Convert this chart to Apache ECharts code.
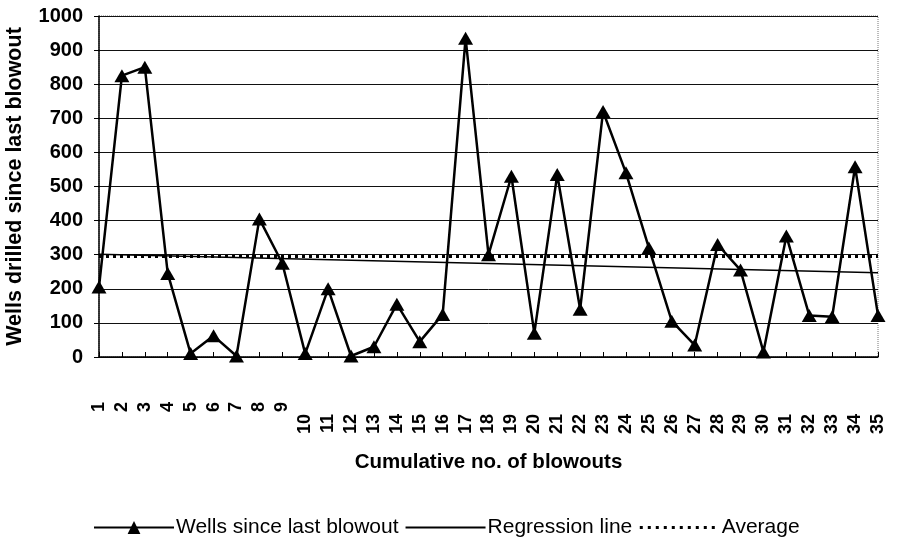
<!DOCTYPE html>
<html>
<head>
<meta charset="utf-8">
<script src="https://cdn.jsdelivr.net/npm/echarts@6/dist/echarts.min.js"></script>
<style>
  html, body { margin: 0; padding: 0; background: #fff; }
  #chart { width: 901px; height: 538px; }
</style>
</head>
<body>
<div id="chart"></div>
<script>
// 数据
var blowouts = ['1','2','3','4','5','6','7','8','9','10','11','12','13','14','15','16','17','18',
  '19','20','21','22','23','24','25','26','27','28','29','30','31','32','33','34','35'];
var wells = [205, 825, 850, 245, 10, 62, 3, 405, 275, 10, 200, 3, 30, 155, 45, 125, 935, 300,
  530, 70, 535, 140, 720, 540, 320, 105, 35, 330, 255, 15, 355, 122, 118, 558, 122];
// regression line / average: values at first and last blowout
var regression = [301, 247];
var average = [295, 295];
var yTicks = [0, 1000, 100];

var myChart = echarts.init(document.getElementById('chart'));
var font = 'Liberation Sans, Arial, sans-serif';
var last = blowouts.length - 1;

option = {
    animation: false,
    textStyle: { fontFamily: font, color: '#000' },
    grid: {
        left: 99, right: 23, top: 16, bottom: 181,
        outerBoundsMode: 'none',
        show: true,
        borderColor: '#777',
        borderWidth: 1,
        borderType: 'dotted'
    },
    legend: {
        left: 88,
        top: 512,
        itemWidth: 80,
        itemHeight: 16,
        itemGap: 6,
        textStyle: { fontFamily: font, fontSize: 21, color: '#000', padding: [0, 0, 0, -3] },
        data: [
            'Wells since last blowout',
            { name: 'Regression line', itemStyle: { opacity: 0 } },
            { name: 'Average', itemStyle: { opacity: 0 }, lineStyle: { width: 3, type: [3, 5] } }
        ]
    },
    xAxis: {
        type: 'category',
        data: blowouts,
        boundaryGap: false,
        name: 'Cumulative no. of blowouts',
        nameLocation: 'middle',
        nameGap: 95,
        nameTextStyle: { fontFamily: font, fontSize: 20.5, fontWeight: 'bold', color: '#000' },
        axisLine: { lineStyle: { color: '#000', width: 1.5 } },
        axisTick: { inside: true, length: 5, lineStyle: { color: '#000' } },
        axisLabel: {
            interval: 0,
            rotate: 90,
            margin: 45,
            fontFamily: font,
            fontSize: 18,
            fontWeight: 'bold',
            color: '#000',
            // 两位数的标签往下放
            formatter: function (v) {
                return v.length > 1 ? '{b|' + v + '}' : '{a|' + v + '}';
            },
            rich: {
                a: { fontFamily: font, fontSize: 18, fontWeight: 'bold', color: '#000' },
                b: { fontFamily: font, fontSize: 18, fontWeight: 'bold', color: '#000', padding: [0, 12, 0, 0] }
            }
        },
        splitLine: { show: false }
    },
    yAxis: {
        type: 'value',
        min: yTicks[0],
        max: yTicks[1],
        interval: yTicks[2],
        name: 'Wells drilled since last blowout',
        nameLocation: 'middle',
        nameGap: 73,
        nameTextStyle: { fontFamily: font, fontSize: 21.5, fontWeight: 'bold', color: '#000' },
        axisLine: { show: true, lineStyle: { color: '#000', width: 1.5 } },
        axisTick: { show: true, length: 5, lineStyle: { color: '#000' } },
        axisLabel: {
            margin: 16, fontFamily: font, fontSize: 20, fontWeight: 'bold', color: '#000',
            formatter: function (v) { return String(v); }
        },
        splitLine: { lineStyle: { color: '#111', width: 1 } }
    },
    series: [
        {
            name: 'Wells since last blowout',
            type: 'line',
            data: wells,
            symbol: 'triangle',
            symbolSize: [15, 13],
            itemStyle: { color: '#000' },
            lineStyle: { color: '#000', width: 2.5 },
            z: 5
        },
        {
            name: 'Regression line',
            type: 'line',
            data: [[0, regression[0]], [last, regression[1]]],
            symbol: 'none',
            itemStyle: { color: '#000' },
            lineStyle: { color: '#000', width: 1.5 }
        },
        {
            name: 'Average',
            type: 'line',
            data: [[0, average[0]], [last, average[1]]],
            symbol: 'none',
            itemStyle: { color: '#000' },
            lineStyle: { color: '#000', width: 3, type: [3, 4] }
        }
    ]
};

myChart.setOption(option);
</script>
</body>
</html>
